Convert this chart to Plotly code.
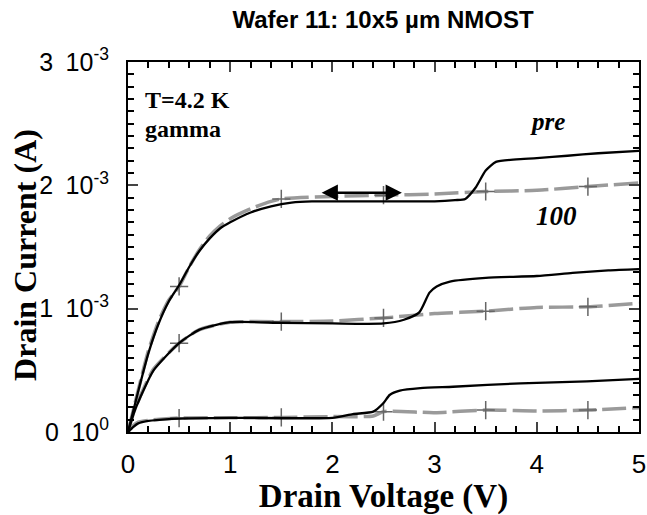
import plotly.graph_objects as go

# Drain voltage sample points (V) and drain currents (mA) for the three gate biases
v_hi = [0, 0.1, 0.2, 0.3, 0.4, 0.5, 0.6, 0.7, 0.8, 0.9, 1.0, 1.2, 1.4, 1.6, 1.8, 2.0, 2.5, 3.0, 3.2, 3.3, 3.4, 3.5, 3.6, 3.8, 4.0, 4.3, 4.6, 5.0]
pre_hi = [0, 0.33, 0.64, 0.88, 1.06, 1.19, 1.34, 1.47, 1.57, 1.65, 1.70, 1.78, 1.83, 1.86, 1.87, 1.87, 1.87, 1.87, 1.88, 1.89, 1.98, 2.12, 2.19, 2.21, 2.22, 2.24, 2.26, 2.28]
v_hi_g = [0, 0.1, 0.2, 0.3, 0.4, 0.5, 0.6, 0.7, 0.8, 0.9, 1.0, 1.2, 1.4, 1.5, 2.0, 2.5, 3.0, 3.5, 4.0, 4.5, 5.0]
rad_hi = [0, 0.34, 0.66, 0.90, 1.07, 1.18, 1.34, 1.48, 1.59, 1.67, 1.73, 1.81, 1.87, 1.89, 1.91, 1.92, 1.93, 1.95, 1.96, 1.99, 2.02]

v_mid = [0, 0.06, 0.12, 0.25, 0.5, 0.7, 1.0, 1.5, 2.0, 2.5, 2.7, 2.85, 2.95, 3.02, 3.15, 3.5, 4.0, 4.35, 4.7, 5.0]
pre_mid = [0, 0.16, 0.28, 0.50, 0.72, 0.83, 0.89, 0.885, 0.88, 0.88, 0.91, 0.97, 1.13, 1.18, 1.22, 1.25, 1.265, 1.29, 1.31, 1.32]
v_mid_g = [0, 0.06, 0.12, 0.25, 0.5, 0.7, 1.0, 1.5, 2.0, 2.5, 3.0, 3.5, 4.0, 4.5, 5.0]
rad_mid = [0, 0.17, 0.29, 0.51, 0.72, 0.83, 0.89, 0.895, 0.90, 0.925, 0.96, 0.98, 1.01, 1.015, 1.045]

v_lo = [0, 0.05, 0.1, 0.2, 0.4, 0.6, 1.0, 2.0, 2.2, 2.4, 2.5, 2.56, 2.66, 2.86, 3.18, 3.84, 4.49, 5.0]
pre_lo = [0, 0.04, 0.07, 0.09, 0.105, 0.11, 0.115, 0.115, 0.145, 0.165, 0.235, 0.30, 0.335, 0.355, 0.367, 0.395, 0.41, 0.43]
v_lo_g = [0, 0.05, 0.1, 0.2, 0.5, 1.0, 1.5, 2.0, 2.4, 2.5, 3.0, 3.5, 4.0, 4.5, 5.0]
rad_lo = [0, 0.05, 0.08, 0.095, 0.113, 0.115, 0.118, 0.125, 0.13, 0.165, 0.157, 0.178, 0.17, 0.178, 0.197]

# Cross markers on the irradiated (100) curves
mark_v = [0.5, 1.5, 2.5, 3.5, 4.5]

y_ticks = [0, 1e-3, 2e-3, 3e-3]
y_text = ["0\u200210<sup>0</sup>", "1\u200210<sup>-3</sup>", "2\u200210<sup>-3</sup>", "3\u200210<sup>-3</sup>"]

GRAY = "#9a9a9a"
fig = go.Figure()


def amps(ma):
    return [m * 1e-3 for m in ma]


def interp(xs, ys, x):
    for i in range(len(xs) - 1):
        if xs[i] <= x <= xs[i + 1]:
            t = (x - xs[i]) / (xs[i + 1] - xs[i])
            return ys[i] + t * (ys[i + 1] - ys[i])
    return ys[-1]


for vg, ig in [(v_hi_g, rad_hi), (v_mid_g, rad_mid), (v_lo_g, rad_lo)]:
    fig.add_trace(go.Scatter(x=vg, y=amps(ig), mode="lines",
                             line=dict(color=GRAY, width=3.5, dash="24px,6px", shape="spline", smoothing=0.6),
                             showlegend=False))
    fig.add_trace(go.Scatter(x=mark_v, y=amps([interp(vg, ig, m) for m in mark_v]), mode="markers",
                             marker=dict(symbol="cross-thin", size=13, line=dict(color="#666666", width=1.5)),
                             showlegend=False))

for vp, ip in [(v_hi, pre_hi), (v_mid, pre_mid), (v_lo, pre_lo)]:
    fig.add_trace(go.Scatter(x=vp, y=amps(ip), mode="lines",
                             line=dict(color="black", width=2.3, shape="spline", smoothing=0.6),
                             showlegend=False))

serif = "Liberation Serif, Times New Roman, serif"
sans = "Liberation Sans, Arial, sans-serif"
fig.add_annotation(x=0.15, y=2.69e-3, text="<b>T=4.2 K</b>", showarrow=False, xanchor="left",
                   font=dict(family=serif, size=24, color="black"))
fig.add_annotation(x=0.15, y=2.46e-3, text="<b>gamma</b>", showarrow=False, xanchor="left",
                   font=dict(family=serif, size=24, color="black"))
fig.add_annotation(x=4.1, y=2.52e-3, text="<b><i>pre</i></b>", showarrow=False,
                   font=dict(family=serif, size=25, color="black"))
fig.add_annotation(x=4.19, y=1.75e-3, text="<b><i>100</i></b>", showarrow=False,
                   font=dict(family=serif, size=27, color="black"))

# Vertical axis title, placed by hand beside the tick labels
fig.add_annotation(x=-0.202, y=0.478, xref="paper", yref="paper", text="<b>Drain Current (A)</b>",
                   textangle=-90, showarrow=False, xanchor="center", yanchor="middle",
                   font=dict(family=serif, size=32, color="black"))

# Double-headed arrow along the upper saturation plateau
fig.add_annotation(x=2.68, y=1.94e-3, ax=1.88, ay=1.94e-3, xref="x", yref="y", axref="x", ayref="y",
                   text="", showarrow=True, arrowhead=2, arrowside="end+start",
                   arrowsize=1.3, arrowwidth=2.5, arrowcolor="black")

fig.update_layout(
    width=647, height=515,
    margin=dict(l=128, r=8, t=62, b=83),
    plot_bgcolor="white", paper_bgcolor="white",
    font=dict(family=sans, color="black"),
    title=dict(text="<b>Wafer 11: 10x5 µm NMOST</b>", x=0.592, xanchor="center", y=0.962, yanchor="middle",
               font=dict(size=24, family=sans)),
    xaxis=dict(range=[0, 5], tickvals=[0, 1, 2, 3, 4, 5], ticks="inside", ticklen=10, tickwidth=2,
               showline=True, linewidth=2, linecolor="black", mirror="ticks", showgrid=False, zeroline=False,
               automargin=False, ticklabelstandoff=8,
               tickfont=dict(size=26), minor=dict(dtick=0.2, ticks="inside", ticklen=6, tickwidth=2, tickcolor="black"),
               title=dict(text="<b>Drain Voltage (V)</b>", font=dict(family=serif, size=33), standoff=4)),
    yaxis=dict(range=[0, 3e-3], tickvals=y_ticks, ticktext=y_text, ticks="inside", ticklen=10, tickwidth=2,
               showline=True, linewidth=2, linecolor="black", mirror="ticks", showgrid=False, zeroline=False,
               automargin=False, ticklabelstandoff=12,
               tickfont=dict(size=25), minor=dict(dtick=1e-4, ticks="inside", ticklen=6, tickwidth=2, tickcolor="black")),
)

fig.write_html("out.html")
